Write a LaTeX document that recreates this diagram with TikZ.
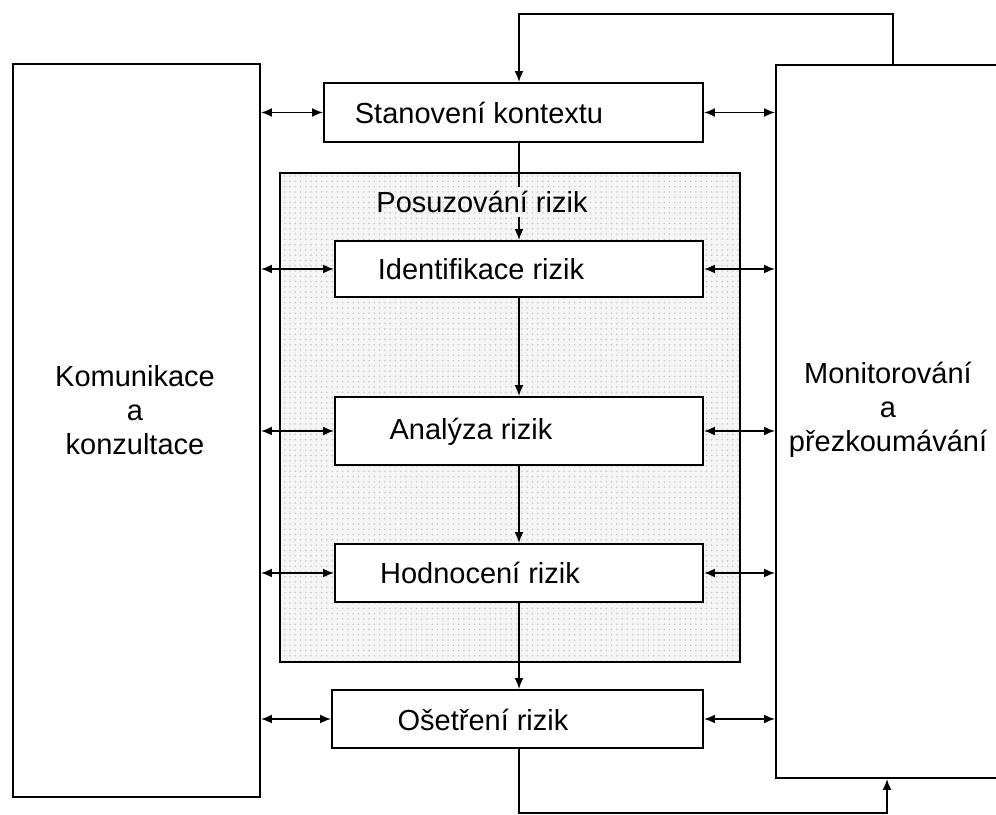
\documentclass[tikz,border=0pt]{standalone}
\usepackage{fontspec}
\setmainfont{Liberation Sans}
\usetikzlibrary{arrows.meta,patterns}

\begin{document}
\begin{tikzpicture}[
  >={Latex[length=2.2mm,width=1.8mm]},
  box/.style={draw,line width=1.1pt,fill=white,inner sep=0pt},
  area/.style={draw,line width=1.1pt,preaction={fill=black!4},pattern=dots,pattern color=black!22,inner sep=0pt},
  lbl/.style={font=\fontsize{16.5}{19.5}\selectfont,inner sep=2pt,align=center},
  conn/.style={line width=1pt}
]
\useasboundingbox (0,0) rectangle (19.92,16.28);
\clip (0,0) rectangle (19.92,16.28);
% draw side boxes
\node[box,minimum width=4.94cm,minimum height=14.66cm] (kom) at (2.73,7.67) {};
\node[box,minimum width=4.68cm,minimum height=14.26cm] (mon) at (17.86,7.85) {};
\node[lbl] (komtxt) at (2.70,8.08) {Komunikace\\a\\konzultace};
\node[lbl] (montxt) at (17.76,8.08) {Monitorování\\a\\přezkoumávání};
% draw assessment area
\node[area,minimum width=9.2cm,minimum height=9.78cm] (pos) at (10.2,7.93) {};
\node[lbl] (postxt) at (9.64,12.24) {Posuzování rizik};
% draw process steps
\node[box,minimum width=7.58cm,minimum height=1.18cm] (ctx) at (10.27,14.03) {};
\node[box,minimum width=7.36cm,minimum height=1.12cm] (ide) at (10.38,10.90) {};
\node[box,minimum width=7.36cm,minimum height=1.36cm] (ana) at (10.38,7.66) {};
\node[box,minimum width=7.36cm,minimum height=1.16cm] (hod) at (10.38,4.82) {};
\node[box,minimum width=7.42cm,minimum height=1.16cm] (ose) at (10.35,1.90) {};
\node[lbl] (ctxtxt) at (9.58,14.02) {Stanovení kontextu};
\node[lbl] (idetxt) at (9.62,10.90) {Identifikace rizik};
\node[lbl] (anatxt) at (9.42,7.64) {Analýza rizik};
\node[lbl] (hodtxt) at (9.60,4.82) {Hodnocení rizik};
\node[lbl] (osetxt) at (9.66,1.88) {Ošetření rizik};
% draw side arrows
\foreach \n in {ctx,ide,ana,hod,ose} {
  \draw[conn,<->] (kom.east |- \n.west) -- (\n.west);
  \draw[conn,<->] (\n.east) -- (mon.west |- \n.east);
}
% draw main flow
\draw[conn] (ide.north |- ctx.south) -- (ide.north |- postxt.north);
\draw[conn,->] (ide.north |- postxt.south) -- (ide.north);
\draw[conn,->] (ide) -- (ana);
\draw[conn,->] (ana) -- (hod);
\draw[conn,->] (hod.south) -- (hod.south |- ose.north);
% draw feedback loops
\draw[conn,->] (mon.north) -- ++(0,1.0) -| (ide.north |- ctx.north);
\draw[conn,->] (hod.south |- ose.south) -- ++(0,-1.28) -| ([xshift=-0.12cm]mon.south);
\end{tikzpicture}
\end{document}
